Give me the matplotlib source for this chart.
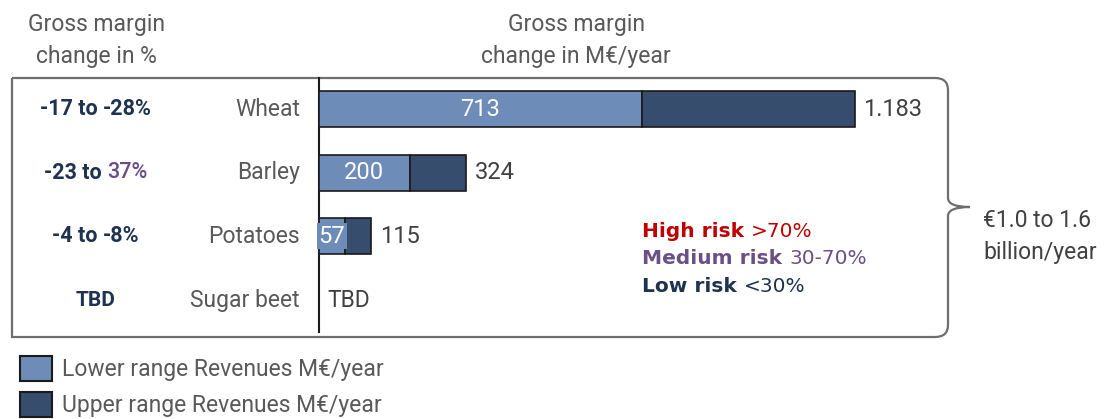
import numpy as np
import matplotlib.pyplot as plt
from matplotlib.path import Path
from matplotlib.patches import PathPatch, Rectangle

# data
crops = ['Wheat', 'Barley', 'Potatoes', 'Sugar beet']
lower_range = [713, 200, 57, None]
upper_range = [1183, 324, 115, None]
change_lo = ['-17', '-23', '-4', None]
change_hi = ['-28%', '37%', '-8%', None]
change_hi_color = ['navy', 'purple', 'navy', 'navy']
risk_names = ['High risk', 'Medium risk', 'Low risk']
risk_ranges = ['>70%', '30-70%', '<30%']
total_text = ['\u20ac1.0 to 1.6', 'billion/year']

LOW_C = '#6d8cb8'
UP_C = '#364d6e'
NAVY = '#1f3350'
PURPLE = '#6b4c8a'
GRAY = '#595959'
DGRAY = '#404040'
colors = {'navy': NAVY, 'purple': PURPLE}
risk_colors = ['#c00000', '#6b5088', NAVY]

plt.rcParams['font.family'] = ['Roboto', 'DejaVu Sans']
FS = 16.5

W, H = 1115, 419
fig = plt.figure(figsize=(W / 100, H / 100), dpi=100)

# overlay in pixel coordinates for the frame and free text
ov = fig.add_axes([0, 0, 1, 1])
ov.set_xlim(0, W)
ov.set_ylim(H, 0)
ov.axis('off')

# bar axes: zero at x=319px, 0.453 px per unit
px_per = 0.453
x0, x1 = 319, 948
top, bot = 78, 337
ax = fig.add_axes([x0 / W, (H - bot) / H, (x1 - x0) / W, (bot - top) / H])
ax.patch.set_alpha(0)
ax.set_xlim(0, (x1 - x0) / px_per)
row0, row_step = 109, 63.7
ax.set_ylim((bot - row0) / row_step, (top - row0) / row_step)
ax.axis('off')

for i, crop in enumerate(crops):
    lo = lower_range[i]
    hi = upper_range[i]
    if lo is None:
        ax.text(18, i, 'TBD', ha='left', va='center', fontsize=FS, color=DGRAY)
        continue
    ax.barh(i, lo, height=0.565, color=LOW_C, edgecolor='#1a1a1a', linewidth=1.2, zorder=2)
    ax.barh(i, hi - lo, left=lo, height=0.565, color=UP_C, edgecolor='#1a1a1a', linewidth=1.2, zorder=2)
    if lo < 100:
        ax.text(lo / 2, i, str(lo), ha='center', va='center', fontsize=17, color='white', zorder=3,
                bbox=dict(facecolor=LOW_C, edgecolor='none', pad=1))
    else:
        ax.text(lo / 2, i, str(lo), ha='center', va='center', fontsize=17, color='white', zorder=3)
    ax.text(hi + 19, i, f'{hi:,}'.replace(',', '.'), ha='left', va='center', fontsize=17, color=DGRAY)

# vertical axis line
ov.plot([319, 319], [78, 332], color='#1a1a1a', lw=1.5)

# frame with curly brace on the right
verts = [(12, 78), (935, 78),
         (948, 78), (948, 90),
         (948, 198),
         (948, 207), (970, 207),
         (948, 207), (948, 216),
         (948, 325),
         (948, 337), (935, 337),
         (12, 337), (12, 78)]
codes = [Path.MOVETO, Path.LINETO,
         Path.CURVE3, Path.CURVE3,
         Path.LINETO,
         Path.CURVE3, Path.CURVE3,
         Path.CURVE3, Path.CURVE3,
         Path.LINETO,
         Path.CURVE3, Path.CURVE3,
         Path.LINETO, Path.LINETO]
ov.add_patch(PathPatch(Path(verts, codes), facecolor='none', edgecolor='#6e6e6e', lw=1.6))

# headers
for cx, lines in [(96, ['Gross margin', 'change in %']),
                  (576, ['Gross margin', 'change in M\u20ac/year'])]:
    ov.text(cx, 25, lines[0], ha='center', va='center', fontsize=FS, color=GRAY)
    ov.text(cx, 56, lines[1], ha='center', va='center', fontsize=FS, color=GRAY)

# category labels and change ranges
r = fig.canvas.get_renderer()
for i, crop in enumerate(crops):
    y = row0 + row_step * i
    ov.text(300, y, crop, ha='right', va='center', fontsize=FS, color=GRAY)
    if change_lo[i] is None:
        ov.text(96, y, 'TBD', ha='center', va='center', fontsize=15, color=NAVY, fontweight='bold')
        continue
    a = change_lo[i] + ' to '
    b = change_hi[i]
    t1 = ov.text(0, y, a, ha='left', va='center', fontsize=15.5, color=NAVY, fontweight='bold')
    t2 = ov.text(0, y, b, ha='left', va='center', fontsize=15.5, color=colors[change_hi_color[i]],
                 fontweight='bold' if change_hi_color[i] == 'navy' else 'medium')
    w1 = t1.get_window_extent(r).width
    w2 = t2.get_window_extent(r).width
    start = 96 - (w1 + w2) / 2
    t1.set_x(start)
    t2.set_x(start + w1)

# risk legend
for k, (name, rng) in enumerate(zip(risk_names, risk_ranges)):
    y = 231 + 27.5 * k
    t = ov.text(642, y, name + ' ', ha='left', va='center', fontsize=14.5, fontweight='bold',
                color=risk_colors[k], family='DejaVu Sans')
    w = t.get_window_extent(r).width
    ov.text(642 + w, y, rng, ha='left', va='center', fontsize=14.5,
            color=risk_colors[k], family='DejaVu Sans')

# total
ov.text(983, 220, total_text[0], ha='left', va='center', fontsize=16.5, color=DGRAY)
ov.text(983, 252, total_text[1], ha='left', va='center', fontsize=16.5, color=DGRAY)

# legend
ov.add_patch(Rectangle((20, 356), 32, 25, facecolor=LOW_C, edgecolor='#1a1a1a', lw=1.5))
ov.add_patch(Rectangle((20, 392), 32, 25, facecolor=UP_C, edgecolor='#1a1a1a', lw=1.5))
ov.text(62, 369, 'Lower range Revenues M\u20ac/year', ha='left', va='center', fontsize=FS, color=GRAY)
ov.text(62, 405, 'Upper range Revenues M\u20ac/year', ha='left', va='center', fontsize=FS, color=GRAY)

fig.savefig('out.png', dpi=100)
